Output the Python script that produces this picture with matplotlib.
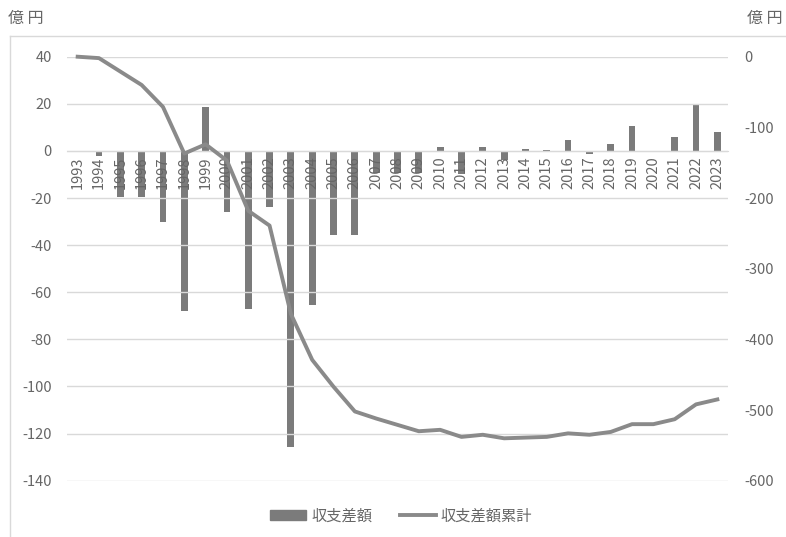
import matplotlib
matplotlib.use("Agg")
import matplotlib.pyplot as plt
from matplotlib.lines import Line2D
from matplotlib.patches import Patch

plt.rcParams['font.family'] = ['Noto Sans CJK JP', 'DejaVu Sans']
plt.rcParams['axes.unicode_minus'] = False

# data
years = [str(y) for y in range(1993, 2024)]
balance = [0, -2, -19.5, -19.5, -30, -68, 18.8, -25.8, -67.3, -23.7,
           -125.5, -65.5, -35.8, -35.8, -9.5, -9.5, -9.5, 1.7, -10, 1.7,
           -4, 0.7, 0.3, 4.5, -1.4, 2.8, 10.6, 0, 6.1, 20.1, 8.2]
cumulative = [0, -2, -21, -40, -71, -137, -124, -147, -218, -239,
              -364, -429, -467, -502, -512, -521, -530, -528, -538, -535,
              -540, -539, -538, -533, -535, -531, -520, -520, -513, -492, -485]
left_ticks = [40, 20, 0, -20, -40, -60, -80, -100, -120, -140]
right_ticks = [0, -100, -200, -300, -400, -500, -600]

txt = '#666666'
bar_c = '#7b7b7b'
line_c = '#8a8a8a'
grid_c = '#d9d9d9'

fig = plt.figure(figsize=(7.86, 5.37), dpi=100)
ax = fig.add_axes([67/786, 1-480.7/537, (728-67)/786, (480.7-56.7)/537])
x = list(range(len(years)))

ax.bar(x, balance, width=0.32, color=bar_c, zorder=1)
ax.set_xlim(-0.5, len(years)-0.5)
ax.set_ylim(-140, 40)
ax.set_yticks(left_ticks)
ax.grid(axis='y', color=grid_c, lw=1)
ax.set_axisbelow(False)
for s in ['top', 'left', 'right']:
    ax.spines[s].set_visible(False)
ax.spines['bottom'].set_position(('data', 0))
ax.spines['bottom'].set_color(grid_c)
ax.set_xticks(x)
ax.set_xticklabels(years, rotation=90, fontsize=10.5, color=txt)
ax.tick_params(axis='x', length=0, pad=4)
ax.tick_params(axis='y', length=0, pad=11, labelsize=10.5, labelcolor=txt)

ax2 = ax.twinx()
ax2.plot(x, cumulative, color=line_c, lw=2.8, clip_on=False, solid_joinstyle='round')
ax2.set_ylim(-600, 0)
ax2.set_yticks(right_ticks)
ax2.tick_params(axis='y', length=0, pad=12, labelsize=10.5, labelcolor=txt)
for s in ax2.spines.values():
    s.set_visible(False)

fig.text(8/786, 1-18/537, '億 円', fontsize=11.5, color=txt, va='center', ha='left')
fig.text(783/786, 1-18/537, '億 円', fontsize=11.5, color=txt, va='center', ha='right')

# outer frame of the chart area
fig.add_artist(Line2D([10/786, 10/786], [0, 1-36/537], color=grid_c, lw=1))
fig.add_artist(Line2D([10/786, 1], [1-36/537, 1-36/537], color=grid_c, lw=1))

handles = [Patch(color=bar_c), Line2D([0], [0], color=line_c, lw=2.8)]
fig.legend(handles, ['収支差額', '収支差額累計'], loc='center', bbox_to_anchor=(401/786, 1-516/537),
           ncol=2, frameon=False, fontsize=11, handlelength=2.4, handleheight=0.55,
           handletextpad=0.3, columnspacing=1.8, labelcolor=txt)

fig.savefig('out.png', dpi=100)
